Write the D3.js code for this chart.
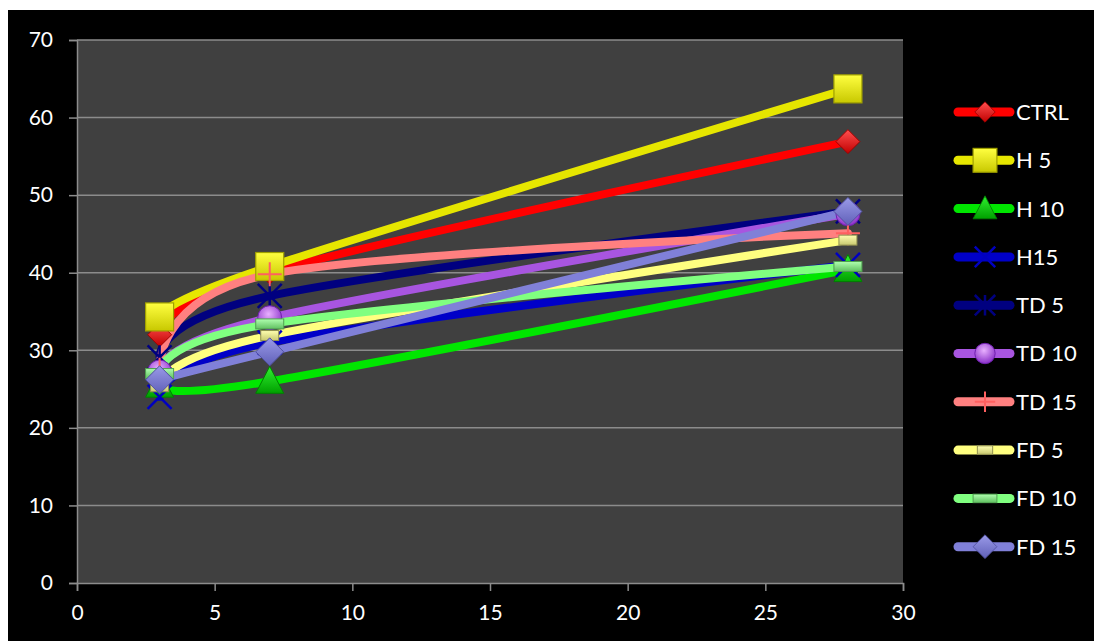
<!DOCTYPE html>
<meta charset="utf-8">
<style>
body { margin: 0; background: #fff; }
text { font-family: Lato, "Open Sans", sans-serif; fill: #fff; }
</style>
<svg width="1094" height="641"></svg>
<script src="https://d3js.org/d3.v7.min.js"></script>
<script>

// data
var days = [3, 7, 28];
var seriesNames = ["CTRL", "H 5", "H 10", "H15", "TD 5", "TD 10", "TD 15", "FD 5", "FD 10", "FD 15"];
var ctrl = [32.0, 40.1, 56.9];
var h5   = [34.3, 40.8, 63.7];
var h10  = [25.5, 26.0, 40.4];
var h15  = [24.0, 31.0, 41.0];
var td5  = [29.1, 37.0, 47.9];
var td10 = [27.2, 34.2, 47.6];
var td15 = [27.5, 39.8, 45.1];
var fd5  = [25.3, 31.9, 44.2];
var fd10 = [27.0, 33.4, 40.8];
var fd15 = [26.2, 29.8, 47.9];
var yTicks = [0, 10, 20, 30, 40, 50, 60, 70];
var xTicks = [0, 5, 10, 15, 20, 25, 30];

var values = [ctrl, h5, h10, h15, td5, td10, td15, fd5, fd10, fd15];
var lineColors = ["#ff0000", "#e6e600", "#00e600", "#0000c8", "#000080", "#a855e0", "#ff8080", "#ffff80", "#80ff80", "#8080d8"];
var markerKinds = ["diamond", "square", "triangle", "x", "star", "circle", "plus", "dashS", "dashL", "diamond2"];

var svg = d3.select("svg");
var plotL = 77, plotR = 903, plotT = 40, plotB = 583;

// black canvas with the thin white margin at top/left
svg.append("rect").attr("x", 8).attr("y", 10).attr("width", 1086).attr("height", 631).attr("fill", "#000");

var x = d3.scaleLinear().domain([0, 30]).range([plotL, plotR]);
var y = d3.scaleLinear().domain([0, 70]).range([plotB, plotT]);

var defs = svg.append("defs");
function grad(id, c1, c2) {
  var g = defs.append("linearGradient").attr("id", id).attr("x1", 0).attr("y1", 0).attr("x2", 0).attr("y2", 1);
  g.append("stop").attr("offset", "0%").attr("stop-color", c1);
  g.append("stop").attr("offset", "100%").attr("stop-color", c2);
}
grad("gRed", "#ff5050", "#c00000");
grad("gYel", "#ffff40", "#c8c800");
grad("gGrn", "#30f030", "#00a000");
grad("gFd5", "#ffffb0", "#c8c870");
grad("gFd10", "#b0ffb0", "#60c060");
grad("gLav", "#9a9ae8", "#6060b8");
var rg = defs.append("radialGradient").attr("id", "gPur").attr("cx", "45%").attr("cy", "35%").attr("r", "65%");
rg.append("stop").attr("offset", "0%").attr("stop-color", "#e8b0ff");
rg.append("stop").attr("offset", "100%").attr("stop-color", "#8a30c8");

// plot area
svg.append("rect").attr("x", plotL).attr("y", plotT).attr("width", plotR - plotL).attr("height", plotB - plotT).attr("fill", "#404040");

// gridlines
svg.append("g").selectAll("line").data(yTicks.slice(1)).join("line")
  .attr("x1", plotL).attr("x2", plotR)
  .attr("y1", d => y(d)).attr("y2", d => y(d))
  .attr("stroke", "#8c8c8c").attr("stroke-width", 1.5);

// axes
var yAxis = svg.append("g").attr("transform", "translate(" + plotL + ",0)")
  .call(d3.axisLeft(y).tickValues(yTicks).tickSize(8).tickPadding(16));
var xAxis = svg.append("g").attr("transform", "translate(0," + plotB + ")")
  .call(d3.axisBottom(x).tickValues(xTicks).tickSize(8).tickPadding(14));
[yAxis, xAxis].forEach(function(a) {
  a.select(".domain").attr("stroke", "#8c8c8c").attr("stroke-width", 1.5);
  a.selectAll(".tick line").attr("stroke", "#8c8c8c").attr("stroke-width", 1.5);
  a.selectAll(".tick text").attr("fill", "#fff").style("font-size", "21px").style("font-family", "Lato, sans-serif");
});

// smoothed lines
var line = d3.line().x((d, i) => x(days[i])).y(d => y(d)).curve(d3.curveCatmullRom.alpha(0));
svg.append("g").selectAll("path").data(values).join("path")
  .attr("d", d => line(d))
  .attr("fill", "none")
  .attr("stroke", (d, i) => lineColors[i])
  .attr("stroke-width", 8)
  .attr("stroke-linecap", "round");

function drawMarker(g, kind, s) {
  // s = scale factor
  switch (kind) {
    case "diamond":
      g.append("path").attr("d", "M0,-12L12,0L0,12L-12,0Z").attr("transform", "scale(" + s + ")")
        .attr("fill", "url(#gRed)").attr("stroke", "#a00000").attr("stroke-width", 1);
      break;
    case "square":
      g.append("rect").attr("x", -14 * s).attr("y", -14 * s).attr("width", 28 * s).attr("height", 28 * s)
        .attr("fill", "url(#gYel)").attr("stroke", "#a0a000").attr("stroke-width", 1.2);
      break;
    case "triangle":
      g.append("path").attr("d", "M0,-15L14,12L-14,12Z").attr("transform", "scale(" + s + ")")
        .attr("fill", "url(#gGrn)").attr("stroke", "#008000").attr("stroke-width", 1);
      break;
    case "x":
      g.append("path").attr("d", "M-12,-12L12,12M12,-12L-12,12").attr("transform", "scale(" + s + ")")
        .attr("stroke", "#0000c0").attr("stroke-width", 2.5 / s);
      break;
    case "star":
      g.append("path").attr("d", "M-12,-12L12,12M12,-12L-12,12M0,-12L0,12").attr("transform", "scale(" + s + ")")
        .attr("stroke", "#000080").attr("stroke-width", 2.5 / s);
      break;
    case "circle":
      g.append("circle").attr("r", 12 * s).attr("fill", "url(#gPur)").attr("stroke", "#7020b0").attr("stroke-width", 1);
      break;
    case "plus":
      g.append("path").attr("d", "M0,-12L0,12M-12,0L12,0").attr("transform", "scale(" + s + ")")
        .attr("stroke", "#ff6060").attr("stroke-width", 2 / s);
      break;
    case "dashS":
      g.append("rect").attr("x", -9 * s).attr("y", -5 * s).attr("width", 18 * s).attr("height", 10 * s)
        .attr("fill", "url(#gFd5)").attr("stroke", "#909050").attr("stroke-width", 1);
      break;
    case "dashL":
      g.append("rect").attr("x", -14 * s).attr("y", -5 * s).attr("width", 28 * s).attr("height", 10 * s)
        .attr("fill", "url(#gFd10)").attr("stroke", "#50a050").attr("stroke-width", 1);
      break;
    case "diamond2":
      g.append("path").attr("d", "M0,-14L14,0L0,14L-14,0Z").attr("transform", "scale(" + s + ")")
        .attr("fill", "url(#gLav)").attr("stroke", "#5050a0").attr("stroke-width", 1);
      break;
  }
}

// markers, series order (later series on top)
values.forEach(function(vals, si) {
  vals.forEach(function(v, i) {
    var g = svg.append("g").attr("transform", "translate(" + x(days[i]) + "," + y(v) + ")");
    drawMarker(g, markerKinds[si], 1);
  });
});

// legend
var legY0 = 112, legStep = 48.3;
var leg = svg.append("g").selectAll("g").data(seriesNames).join("g")
  .attr("transform", (d, i) => "translate(954," + (legY0 + i * legStep) + ")");
leg.append("line").attr("x1", 4).attr("x2", 56).attr("y1", 0).attr("y2", 0)
  .attr("stroke", (d, i) => lineColors[i]).attr("stroke-width", 9).attr("stroke-linecap", "round");
leg.each(function(d, i) {
  var g = d3.select(this).append("g").attr("transform", "translate(31,0)");
  drawMarker(g, markerKinds[i], 0.85);
});
leg.append("text").attr("x", 62).attr("y", 0).attr("dy", "0.36em")
  .style("font-size", "22px").text(d => d);

</script>
